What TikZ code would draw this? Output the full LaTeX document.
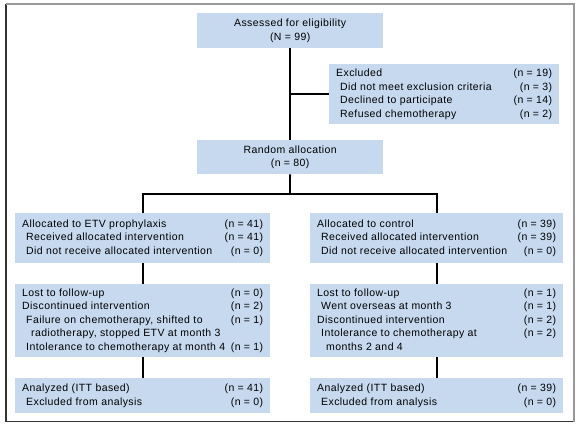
\documentclass[tikz,border=0pt]{standalone}
\usepackage{fontspec}
\setmainfont[LetterSpace=4]{Liberation Sans}
\definecolor{boxblue}{RGB}{198,217,239}
\newcommand{\ntab}[2]{\begin{tabular*}{#1}{@{}l@{\extracolsep{\fill}}r@{}}#2\end{tabular*}}
\newcommand{\ind}{\hspace*{4pt}}
\newcommand{\indd}{\hspace*{9pt}}
\begin{document}
\begin{tikzpicture}[x=1pt, y=-1pt,
  every node/.style={font=\fontsize{10.5}{13.5}\selectfont},
  fbox/.style={fill=boxblue, inner sep=0pt, anchor=north west},
  link/.style={line width=1.8pt},
]
\useasboundingbox (0,0) rectangle (580,427);
\draw[black!80, line width=1.2pt] (6,4.5) -- (6,421.5) -- (573.5,421.5);
\draw[black!40, line width=2pt] (6,4.5) -- (573.5,4.5) -- (573.5,421.5);

\node[fbox, minimum width=186pt, minimum height=35pt, align=center] (assess) at (197,13) {Assessed for eligibility\\(N = 99)};

\node[fbox, minimum width=230pt, minimum height=60pt] (excl) at (329,64) {\ntab{216pt}{Excluded & (n = 19)\\
\ind Did not meet exclusion criteria & (n = 3)\\
\ind Declined to participate & (n = 14)\\
\ind Refused chemotherapy & (n = 2)}};

\node[fbox, minimum width=186pt, minimum height=34pt, align=center] (random) at (197,140) {Random allocation\\(n = 80)};

\node[fbox, minimum width=255pt, minimum height=50pt] (etv) at (15,213) {\ntab{241pt}{Allocated to ETV prophylaxis & (n = 41)\\
\ind Received allocated intervention & (n = 41)\\
\ind Did not receive allocated intervention & (n = 0)}};

\node[fbox, minimum width=253pt, minimum height=50pt] (ctrl) at (310,213) {\ntab{239pt}{Allocated to control & (n = 39)\\
\ind Received allocated intervention & (n = 39)\\
\ind Did not receive allocated intervention & (n = 0)}};

\node[fbox, minimum width=255pt, minimum height=73pt] (lostl) at (15,284) {\ntab{241pt}{Lost to follow-up & (n = 0)\\
Discontinued intervention & (n = 2)\\
\ind Failure on chemotherapy, shifted to & (n = 1)\\
\indd radiotherapy, stopped ETV at month 3 & \\
\ind Intolerance to chemotherapy at month 4 & (n = 1)}};

\node[fbox, minimum width=253pt, minimum height=73pt] (lostr) at (310,284) {\ntab{239pt}{Lost to follow-up & (n = 1)\\
\ind Went overseas at month 3 & (n = 1)\\
Discontinued intervention & (n = 2)\\
\ind Intolerance to chemotherapy at & (n = 2)\\
\indd months 2 and 4 & }};

\node[fbox, minimum width=255pt, minimum height=35pt] (anal) at (15,378) {\ntab{241pt}{Analyzed (ITT based) & (n = 41)\\
\ind Excluded from analysis & (n = 0)}};

\node[fbox, minimum width=253pt, minimum height=35pt] (anar) at (310,378) {\ntab{239pt}{Analyzed (ITT based) & (n = 39)\\
\ind Excluded from analysis & (n = 0)}};

\coordinate (split) at (290,194);
\draw[link] (assess) -- (random);
\draw[link] (assess.south |- excl.west) -- (excl.west);
\draw[link] (random) -- (split);
\draw[link] (etv.north) |- (split) -| (ctrl.north);
\draw[link] (etv) -- (lostl);
\draw[link] (lostl) -- (anal);
\draw[link] (ctrl) -- (lostr);
\draw[link] (lostr) -- (anar);
\end{tikzpicture}
\end{document}
